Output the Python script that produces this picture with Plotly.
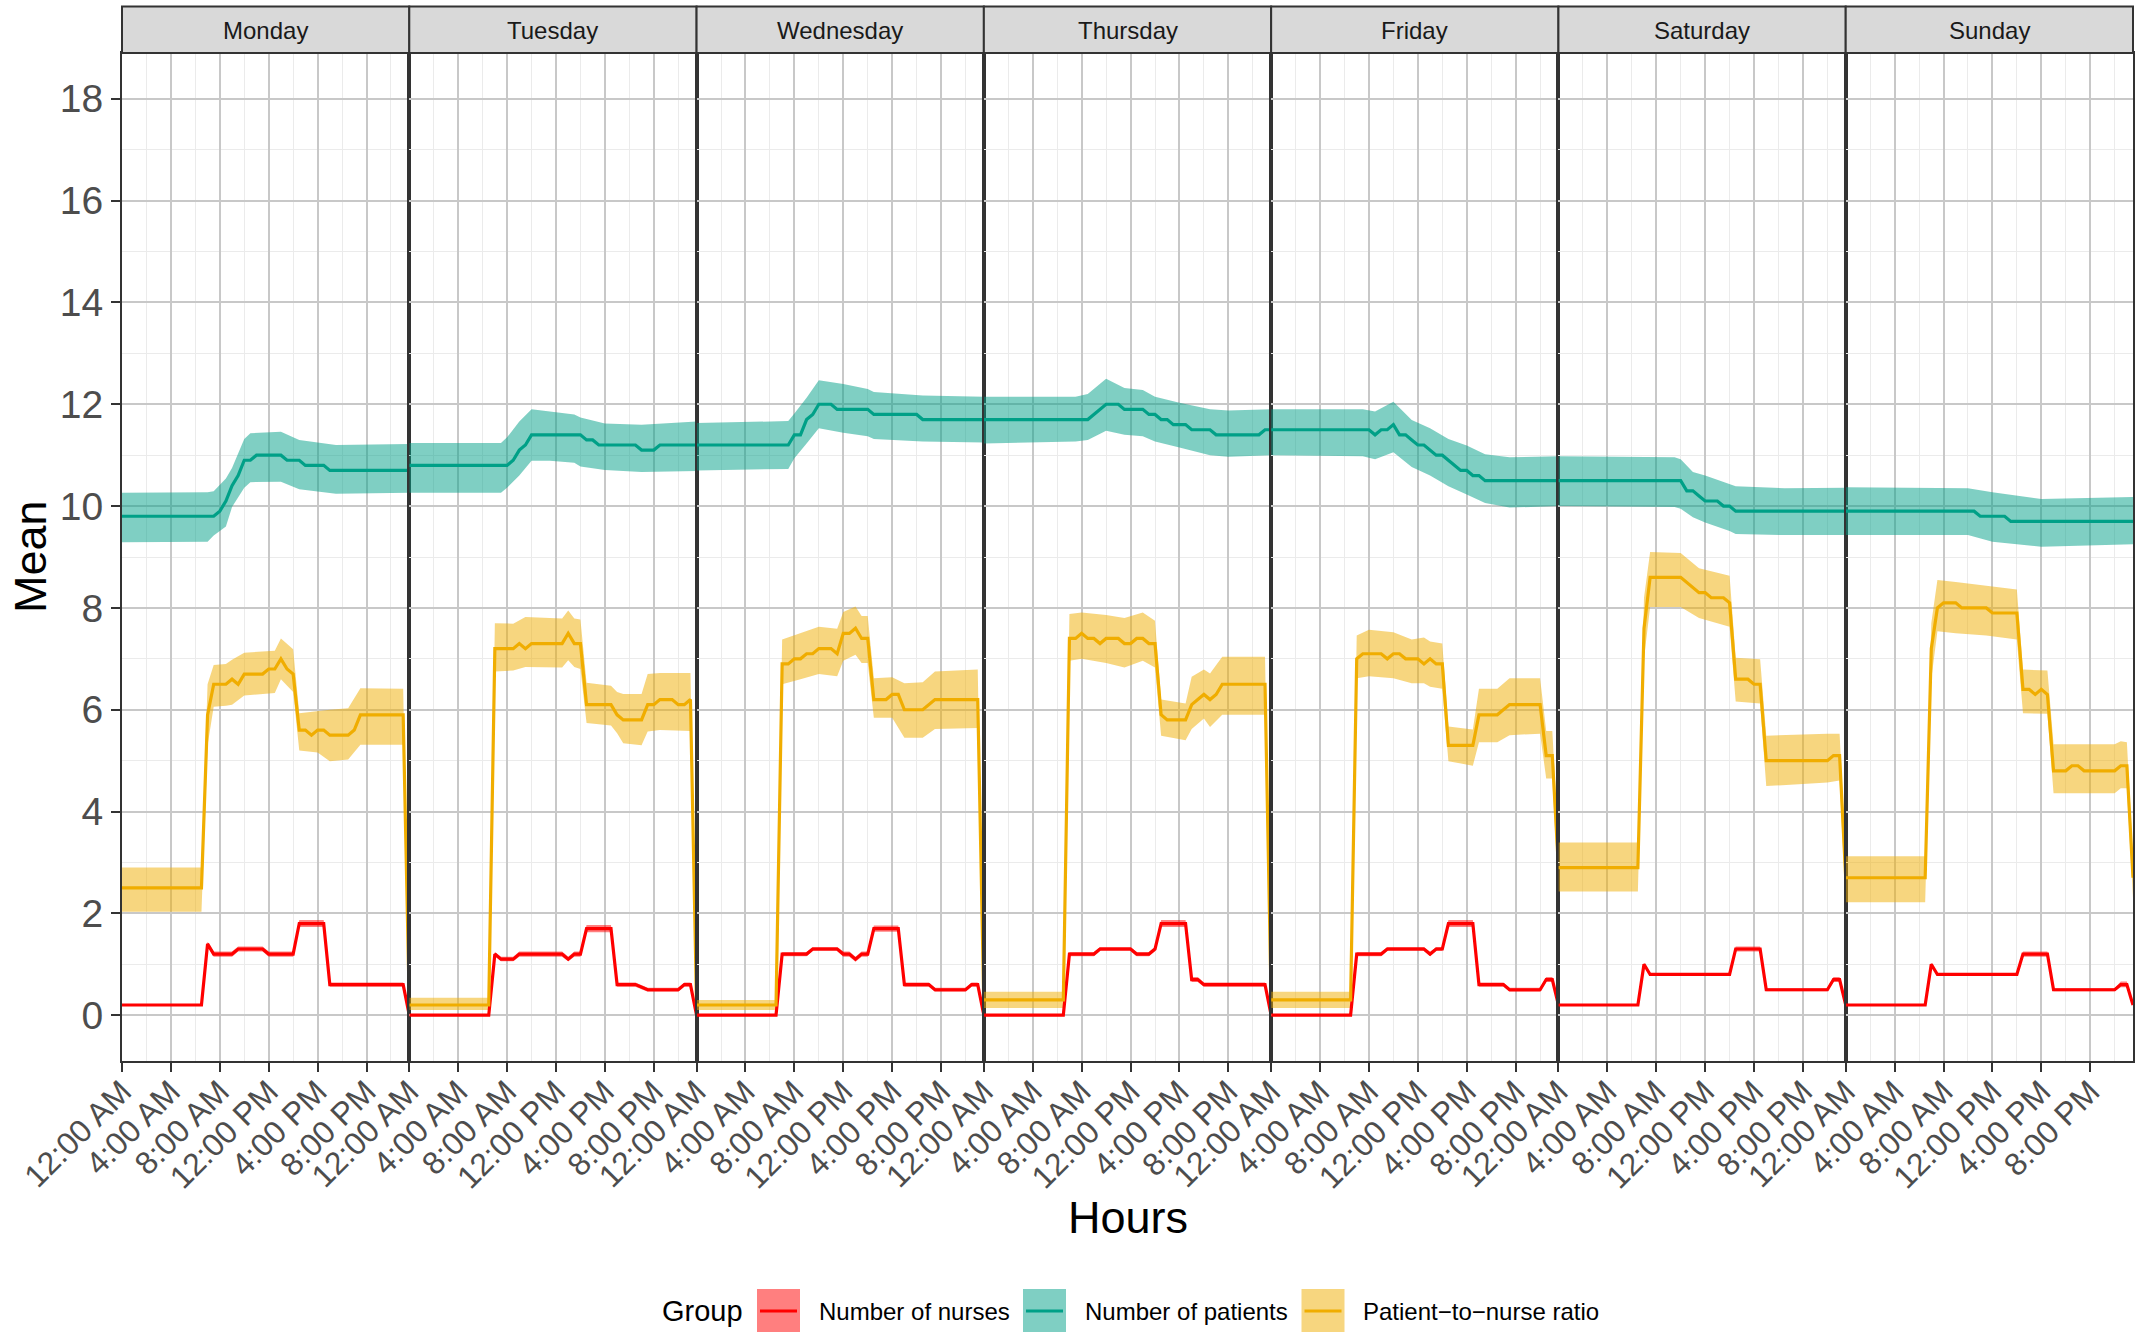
import plotly.graph_objects as go
from plotly.subplots import make_subplots

# ---------------- data ----------------
DAYS = ["Monday", "Tuesday", "Wednesday", "Thursday", "Friday", "Saturday", "Sunday"]
TICK_HOURS = [0, 4, 8, 12, 16, 20]
TICK_LABELS = ["12:00 AM", "4:00 AM", "8:00 AM", "12:00 PM", "4:00 PM", "8:00 PM"]
GROUPS = ["Number of nurses", "Number of patients", "Patient\u2212to\u2212nurse ratio"]
Y_TICKS = [0, 2, 4, 6, 8, 10, 12, 14, 16, 18]

# nurses: (hour, mean, lower, upper)
mon_nurses = [(0,0.2,0.18,0.22),(6.5,0.2,0.18,0.22),(7,1.4,1.36,1.44),(7.5,1.2,1.15,1.25),(9,1.2,1.15,1.25),(9.5,1.3,1.25,1.35),(11.5,1.3,1.25,1.35),(12,1.2,1.15,1.25),(14,1.2,1.15,1.25),(14.5,1.8,1.73,1.87),(16.5,1.8,1.73,1.87),(17,0.6,0.56,0.64),(23,0.6,0.56,0.64),(23.5,0,0,0.01)]
tue_nurses = [(0,0,0,0.01),(6.5,0,0,0.01),(7,1.2,1.16,1.24),(7.5,1.1,1.06,1.15),(8.5,1.1,1.06,1.15),(9,1.2,1.15,1.25),(12.5,1.2,1.15,1.25),(13,1.1,1.06,1.15),(13.5,1.2,1.15,1.25),(14,1.2,1.15,1.25),(14.5,1.7,1.63,1.77),(16.5,1.7,1.63,1.77),(17,0.6,0.56,0.64),(18.5,0.6,0.56,0.64),(19.5,0.5,0.46,0.54),(22,0.5,0.46,0.54),(22.5,0.6,0.56,0.64),(23,0.6,0.56,0.64),(23.5,0,0,0.01)]
wed_nurses = [(0,0,0,0.01),(6.5,0,0,0.01),(7,1.2,1.16,1.24),(9,1.2,1.16,1.24),(9.5,1.3,1.26,1.34),(11.5,1.3,1.26,1.34),(12,1.2,1.15,1.25),(12.5,1.2,1.15,1.25),(13,1.1,1.05,1.15),(13.5,1.2,1.15,1.25),(14,1.2,1.15,1.25),(14.5,1.7,1.64,1.76),(16.5,1.7,1.64,1.76),(17,0.6,0.56,0.64),(19,0.6,0.56,0.64),(19.5,0.5,0.46,0.54),(22,0.5,0.46,0.54),(22.5,0.6,0.56,0.64),(23,0.6,0.56,0.64),(23.5,0,0,0.01)]
thu_nurses = [(0,0,0,0.01),(6.5,0,0,0.01),(7,1.2,1.16,1.24),(9,1.2,1.16,1.24),(9.5,1.3,1.26,1.34),(12,1.3,1.26,1.34),(12.5,1.2,1.16,1.24),(13.5,1.2,1.16,1.24),(14,1.3,1.26,1.34),(14.5,1.8,1.73,1.87),(16.5,1.8,1.73,1.87),(17,0.7,0.65,0.75),(17.5,0.7,0.65,0.75),(18,0.6,0.56,0.64),(23,0.6,0.56,0.64),(23.5,0,0,0.01)]
fri_nurses = [(0,0,0,0.01),(6.5,0,0,0.01),(7,1.2,1.16,1.24),(9,1.2,1.16,1.24),(9.5,1.3,1.26,1.34),(12.5,1.3,1.26,1.34),(13,1.2,1.16,1.24),(13.5,1.3,1.26,1.34),(14,1.3,1.26,1.34),(14.5,1.8,1.73,1.87),(16.5,1.8,1.73,1.87),(17,0.6,0.56,0.64),(19,0.6,0.56,0.64),(19.5,0.5,0.46,0.54),(22,0.5,0.46,0.54),(22.5,0.7,0.65,0.75),(23,0.7,0.65,0.75),(23.5,0.2,0.18,0.22)]
sat_nurses = [(0,0.2,0.18,0.22),(6.5,0.2,0.18,0.22),(7,1.0,0.97,1.03),(7.5,0.8,0.77,0.83),(14,0.8,0.77,0.83),(14.5,1.3,1.25,1.35),(16.5,1.3,1.25,1.35),(17,0.5,0.47,0.53),(22,0.5,0.47,0.53),(22.5,0.7,0.65,0.75),(23,0.7,0.65,0.75),(23.5,0.2,0.18,0.22)]
sun_nurses = [(0,0.2,0.18,0.22),(6.5,0.2,0.18,0.22),(7,1.0,0.97,1.03),(7.5,0.8,0.77,0.83),(14,0.8,0.77,0.83),(14.5,1.2,1.15,1.25),(16.5,1.2,1.15,1.25),(17,0.5,0.47,0.53),(22,0.5,0.47,0.53),(22.5,0.6,0.55,0.66),(23,0.6,0.55,0.66),(23.5,0.2,0.18,0.22)]

# patients: (hour, mean) and band (hour, lower, upper)
mon_patients = [(0,9.8),(7.5,9.8),(8,9.9),(8.5,10.1),(9,10.4),(9.5,10.6),(10,10.9),(10.5,10.9),(11,11.0),(13,11.0),(13.5,10.9),(14.5,10.9),(15,10.8),(16.5,10.8),(17,10.7),(23.5,10.7)]
mon_patients_band = [(0,9.29,10.26),(7,9.30,10.27),(7.5,9.42,10.29),(8.5,9.60,10.54),(9,9.98,10.75),(10,10.36,11.32),(10.5,10.47,11.43),(13,10.48,11.46),(14.5,10.33,11.30),(17.5,10.24,11.20),(23.5,10.26,11.22)]
tue_patients = [(0,10.8),(8,10.8),(8.5,10.9),(9,11.1),(9.5,11.2),(10,11.4),(14,11.4),(14.5,11.3),(15,11.3),(15.5,11.2),(18.5,11.2),(19,11.1),(20,11.1),(20.5,11.2),(23.5,11.2)]
tue_patients_band = [(0,10.26,11.24),(7.5,10.26,11.24),(8,10.36,11.35),(9,10.60,11.66),(10,10.89,11.90),(11.5,10.89,11.86),(13.5,10.85,11.80),(14,10.78,11.74),(16,10.71,11.62),(19,10.67,11.60),(23.5,10.69,11.66)]
wed_patients = [(0,11.2),(7.5,11.2),(8,11.4),(8.5,11.4),(9,11.7),(9.5,11.8),(10,12.0),(11,12.0),(11.5,11.9),(14,11.9),(14.5,11.8),(18,11.8),(18.5,11.7),(23.5,11.7)]
wed_patients_band = [(0,10.70,11.63),(7.5,10.73,11.67),(8,10.94,11.82),(9,11.23,12.13),(10,11.53,12.47),(12,11.44,12.40),(14,11.37,12.30),(14.5,11.32,12.24),(18.5,11.27,12.17),(23.5,11.25,12.15)]
thu_patients = [(0,11.7),(8.5,11.7),(10,12.0),(11,12.0),(11.5,11.9),(13,11.9),(13.5,11.8),(14,11.8),(14.5,11.7),(15,11.7),(15.5,11.6),(16.5,11.6),(17,11.5),(18.5,11.5),(19,11.4),(22.5,11.4),(23,11.5),(23.5,11.5)]
thu_patients_band = [(0,11.23,12.15),(7.5,11.27,12.15),(8.5,11.30,12.20),(10,11.48,12.50),(11.5,11.40,12.32),(13,11.37,12.28),(14,11.27,12.15),(16,11.15,12.03),(18.5,11.00,11.90),(20,10.97,11.88),(23.5,11.00,11.90)]
fri_patients = [(0,11.5),(8,11.5),(8.5,11.4),(9,11.5),(9.5,11.5),(10,11.6),(10.5,11.4),(11,11.4),(11.5,11.3),(12,11.2),(12.5,11.2),(13,11.1),(13.5,11.0),(14,11.0),(14.5,10.9),(15,10.8),(15.5,10.7),(16,10.7),(16.5,10.6),(17,10.6),(17.5,10.5),(23.5,10.5)]
fri_patients_band = [(0,11.00,11.90),(7.5,10.98,11.90),(8.5,10.92,11.86),(10,11.06,12.05),(11.5,10.77,11.69),(13,10.60,11.53),(14.5,10.39,11.32),(16,10.23,11.19),(17.5,10.06,11.02),(19.5,9.97,10.96),(23.5,10.00,10.98)]
sat_patients = [(0,10.5),(10,10.5),(10.5,10.3),(11,10.3),(11.5,10.2),(12,10.1),(13,10.1),(13.5,10.0),(14,10.0),(14.5,9.9),(23.5,9.9)]
sat_patients_band = [(0,10.00,10.98),(9.5,9.98,10.96),(10,9.95,10.92),(11,9.78,10.67),(12,9.68,10.60),(14,9.51,10.44),(14.5,9.45,10.39),(18.5,9.43,10.35),(23.5,9.43,10.36)]
sun_patients = [(0,9.9),(10.5,9.9),(11,9.8),(13,9.8),(13.5,9.7),(23.5,9.7)]
sun_patients_band = [(0,9.43,10.37),(10,9.43,10.35),(12,9.30,10.27),(16,9.20,10.14),(23.5,9.25,10.18)]

# patient-to-nurse ratio: (hour, mean) and band (hour, lower, upper)
mon_ratio = [(0,2.5),(6.5,2.5),(7,5.9),(7.5,6.5),(8.5,6.5),(9,6.6),(9.5,6.5),(10,6.7),(11.5,6.7),(12,6.8),(12.5,6.8),(13,7.0),(13.5,6.8),(14,6.7),(14.5,5.6),(15,5.6),(15.5,5.5),(16,5.6),(16.5,5.6),(17,5.5),(18.5,5.5),(19,5.6),(19.5,5.9),(23,5.9),(23.5,0.2)]
mon_ratio_band = [(0,2.03,2.90),(6.5,2.03,2.90),(7,5.30,6.50),(7.5,6.06,6.88),(8.5,6.08,6.90),(9,6.10,6.98),(10,6.28,7.12),(12.5,6.33,7.16),(13,6.60,7.40),(14,6.35,7.19),(14.5,5.20,5.93),(16,5.16,5.98),(17,4.99,6.00),(18.5,5.02,6.03),(19.5,5.31,6.42),(23,5.31,6.41),(23.5,0.10,0.34)]
tue_ratio = [(0,0.2),(6.5,0.2),(7,7.2),(8.5,7.2),(9,7.3),(9.5,7.2),(10,7.3),(12.5,7.3),(13,7.5),(13.5,7.3),(14,7.3),(14.5,6.1),(16.5,6.1),(17,5.9),(17.5,5.8),(19,5.8),(19.5,6.1),(20,6.1),(20.5,6.2),(21.5,6.2),(22,6.1),(22.5,6.1),(23,6.2),(23.5,0.2)]
tue_ratio_band = [(0,0.10,0.34),(6.5,0.10,0.34),(7,6.75,7.70),(8.5,6.77,7.69),(9.5,6.84,7.82),(12.5,6.83,7.79),(13,6.97,7.95),(13.5,6.84,7.79),(14,6.80,7.77),(14.5,5.74,6.53),(16.5,5.69,6.47),(17,5.54,6.35),(17.5,5.34,6.31),(19,5.30,6.31),(19.5,5.57,6.70),(20.5,5.60,6.72),(23,5.58,6.72),(23.5,0.10,0.34)]
wed_ratio = [(0,0.2),(6.5,0.2),(7,6.9),(7.5,6.9),(8,7.0),(8.5,7.0),(9,7.1),(9.5,7.1),(10,7.2),(11,7.2),(11.5,7.1),(12,7.5),(12.5,7.5),(13,7.6),(13.5,7.4),(14,7.4),(14.5,6.2),(15.5,6.2),(16,6.3),(16.5,6.3),(17,6.0),(18.5,6.0),(19.5,6.2),(23,6.2),(23.5,0.2)]
wed_ratio_band = [(0,0.10,0.30),(6.5,0.10,0.30),(7,6.50,7.38),(8.5,6.60,7.50),(10,6.70,7.63),(11.5,6.66,7.59),(12,6.96,7.92),(13,7.08,8.03),(13.5,6.92,7.84),(14,6.92,7.84),(14.5,5.84,6.62),(16,5.84,6.64),(17,5.45,6.52),(18.5,5.45,6.54),(19.5,5.62,6.75),(23,5.64,6.79),(23.5,0.14,0.46)]
thu_ratio = [(0,0.3),(6.5,0.3),(7,7.4),(7.5,7.4),(8,7.5),(8.5,7.4),(9,7.4),(9.5,7.3),(10,7.4),(11,7.4),(11.5,7.3),(12,7.3),(12.5,7.4),(13,7.4),(13.5,7.3),(14,7.3),(14.5,5.9),(15,5.8),(16.5,5.8),(17,6.1),(17.5,6.2),(18,6.3),(18.5,6.2),(19,6.3),(19.5,6.5),(23,6.5),(23.5,0.3)]
thu_ratio_band = [(0,0.14,0.46),(6.5,0.14,0.46),(7,6.96,7.88),(8,7.00,7.91),(10,6.92,7.86),(11.5,6.83,7.80),(13,6.96,7.91),(14,6.83,7.75),(14.5,5.49,6.20),(16.5,5.40,6.12),(17,5.62,6.65),(18,5.83,6.79),(18.5,5.66,6.71),(19.5,5.90,7.04),(23,5.90,7.04),(23.5,0.14,0.46)]
fri_ratio = [(0,0.3),(6.5,0.3),(7,7.0),(7.5,7.1),(9,7.1),(9.5,7.0),(10,7.1),(10.5,7.1),(11,7.0),(12,7.0),(12.5,6.9),(13,7.0),(13.5,6.9),(14,6.9),(14.5,5.3),(16.5,5.3),(17,5.9),(18.5,5.9),(19.5,6.1),(22,6.1),(22.5,5.1),(23,5.1),(23.5,2.9)]
fri_ratio_band = [(0,0.14,0.46),(6.5,0.14,0.46),(7,6.62,7.46),(8,6.66,7.57),(10,6.62,7.52),(11.5,6.52,7.38),(12.5,6.52,7.42),(13,6.45,7.34),(14,6.41,7.30),(14.5,4.99,5.67),(16.5,4.90,5.61),(17,5.36,6.41),(18.5,5.36,6.41),(19.5,5.50,6.62),(22,5.53,6.62),(22.5,4.65,5.58),(23,4.65,5.58),(23.5,2.43,3.39)]
sat_ratio = [(0,2.9),(6.5,2.9),(7,7.6),(7.5,8.6),(10,8.6),(10.5,8.5),(11,8.4),(11.5,8.3),(12,8.3),(12.5,8.2),(13.5,8.2),(14,8.1),(14.5,6.6),(15.5,6.6),(16,6.5),(16.5,6.5),(17,5.0),(22,5.0),(22.5,5.1),(23,5.1),(23.5,2.7)]
sat_ratio_band = [(0,2.43,3.39),(6.5,2.43,3.39),(7,7.00,8.20),(7.5,8.02,9.10),(10,8.02,9.08),(11.5,7.80,8.78),(14,7.63,8.63),(14.5,6.16,7.02),(16.5,6.12,6.99),(17,4.50,5.49),(22,4.57,5.53),(23,4.61,5.53),(23.5,2.22,3.12)]
sun_ratio = [(0,2.7),(6.5,2.7),(7,7.2),(7.5,8.0),(8,8.1),(9,8.1),(9.5,8.0),(11.5,8.0),(12,7.9),(14,7.9),(14.5,6.4),(15,6.4),(15.5,6.3),(16,6.4),(16.5,6.3),(17,4.8),(18,4.8),(18.5,4.9),(19,4.9),(19.5,4.8),(22,4.8),(22.5,4.9),(23,4.9),(23.5,2.7)]
sun_ratio_band = [(0,2.22,3.12),(6.5,2.22,3.12),(7,6.60,7.70),(7.5,7.54,8.55),(9,7.50,8.51),(11.5,7.46,8.44),(14,7.38,8.36),(14.5,5.93,6.79),(16.5,5.92,6.77),(17,4.36,5.32),(22,4.36,5.32),(22.5,4.46,5.38),(23,4.46,5.36),(23.5,2.30,3.10)]

NURSES = [mon_nurses, tue_nurses, wed_nurses, thu_nurses, fri_nurses, sat_nurses, sun_nurses]
PATIENTS = [mon_patients, tue_patients, wed_patients, thu_patients, fri_patients, sat_patients, sun_patients]
PATIENTS_BAND = [mon_patients_band, tue_patients_band, wed_patients_band, thu_patients_band,
                 fri_patients_band, sat_patients_band, sun_patients_band]
RATIO = [mon_ratio, tue_ratio, wed_ratio, thu_ratio, fri_ratio, sat_ratio, sun_ratio]
RATIO_BAND = [mon_ratio_band, tue_ratio_band, wed_ratio_band, thu_ratio_band,
              fri_ratio_band, sat_ratio_band, sun_ratio_band]

# ---------------- style ----------------
LINE_COLORS = ["#FF0000", "#00A087", "#F0AD00"]
FILL_COLORS = ["rgba(255,0,0,0.5)", "rgba(0,160,135,0.5)", "rgba(240,173,0,0.5)"]
FONT = "Liberation Sans, Arial, Helvetica, sans-serif"
DARK = "#333333"
MAJOR = "#C8C8C8"
MINOR = "#EBEBEB"

W, H = 2144, 1332
ML, MR, MT, MB = 122, 11, 53, 271
PW = W - ML - MR
PH = H - MT - MB
PB = H - MB  # pixel y of plot bottom


def px_x(p):
    return (p - ML) / PW


def px_y(p):
    return (PB - p) / PH


fig = make_subplots(rows=1, cols=7, shared_yaxes=True, horizontal_spacing=0)


def band_trace(band, color):
    hs = [b[0] for b in band]
    lo = [b[1] for b in band]
    hi = [b[2] for b in band]
    return go.Scatter(x=hs + hs[::-1], y=hi + lo[::-1], fill="toself", fillcolor=color,
                      line=dict(width=0), mode="lines", hoverinfo="skip", showlegend=False)


def line_trace(h, v, color, name):
    return go.Scatter(x=h, y=v, mode="lines", line=dict(color=color, width=3.2),
                      name=name, showlegend=False)


for i in range(7):
    col = i + 1
    nb = [(p[0], p[2], p[3]) for p in NURSES[i]]
    fig.add_trace(band_trace(nb, FILL_COLORS[0]), row=1, col=col)
    fig.add_trace(band_trace(PATIENTS_BAND[i], FILL_COLORS[1]), row=1, col=col)
    fig.add_trace(band_trace(RATIO_BAND[i], FILL_COLORS[2]), row=1, col=col)
    fig.add_trace(line_trace([p[0] for p in NURSES[i]], [p[1] for p in NURSES[i]],
                             LINE_COLORS[0], GROUPS[0]), row=1, col=col)
    fig.add_trace(line_trace([p[0] for p in PATIENTS[i]], [p[1] for p in PATIENTS[i]],
                             LINE_COLORS[1], GROUPS[1]), row=1, col=col)
    fig.add_trace(line_trace([p[0] for p in RATIO[i]], [p[1] for p in RATIO[i]],
                             LINE_COLORS[2], GROUPS[2]), row=1, col=col)

    fig.update_xaxes(
        row=1, col=col, range=[0, 23.5], tickmode="array", tickvals=TICK_HOURS,
        ticktext=TICK_LABELS, tickangle=-45, ticklabelstandoff=-12,
        tickfont=dict(family=FONT, size=32, color="#4D4D4D"),
        ticks="outside", ticklen=9, tickwidth=2.2, tickcolor=DARK,
        showgrid=True, gridcolor=MAJOR, gridwidth=1.6,
        minor=dict(tickvals=[2, 6, 10, 14, 18, 22], showgrid=True, gridcolor=MINOR,
                   gridwidth=1.2, ticks=""),
        showline=True, mirror=True, linecolor=DARK, linewidth=2,
        zeroline=False, automargin=False, fixedrange=True)
    fig.update_yaxes(
        row=1, col=col, range=[-0.9, 18.9], tickmode="array", tickvals=Y_TICKS,
        showgrid=True, gridcolor=MAJOR, gridwidth=1.6,
        minor=dict(tickvals=[1, 3, 5, 7, 9, 11, 13, 15, 17], showgrid=True,
                   gridcolor=MINOR, gridwidth=1.2, ticks=""),
        showline=True, mirror=True, linecolor=DARK, linewidth=(2 if col == 1 else 1.5),
        zeroline=False, automargin=False, fixedrange=True,
        ticks="outside" if col == 1 else "", ticklen=9, tickwidth=2.2, tickcolor=DARK,
        showticklabels=(col == 1),
        tickfont=dict(family=FONT, size=39, color="#4D4D4D"))

    # facet strip
    xr = "x domain" if col == 1 else f"x{col} domain"
    fig.add_shape(type="rect", xref=xr, yref="paper", x0=0, x1=1,
                  y0=1, y1=px_y(6.5), fillcolor="#D9D9D9",
                  line=dict(color=DARK, width=2), layer="above")
    fig.add_annotation(xref=xr, yref="paper", x=0.5, y=px_y(30), text=DAYS[i],
                       showarrow=False, font=dict(family=FONT, size=24, color="#1A1A1A"),
                       xanchor="center", yanchor="middle")

# axis titles
fig.add_annotation(xref="paper", yref="paper", x=0.5, y=px_y(1217), text="Hours",
                   showarrow=False, font=dict(family=FONT, size=45, color="black"),
                   xanchor="center", yanchor="middle")
fig.add_annotation(xref="paper", yref="paper", x=px_x(30), y=0.5, text="Mean",
                   textangle=-90, showarrow=False,
                   font=dict(family=FONT, size=45, color="black"),
                   xanchor="center", yanchor="middle")

# legend (drawn manually, ggplot style)
LEG_Y = 1311
fig.add_annotation(xref="paper", yref="paper", x=px_x(660), y=px_y(LEG_Y), text="Group",
                   showarrow=False, font=dict(family=FONT, size=29, color="black"),
                   xanchor="left", yanchor="middle")
key_left = [757, 1023, 1301.5]
text_left = [817, 1083, 1361]
for k in range(3):
    fig.add_shape(type="rect", xref="paper", yref="paper",
                  x0=px_x(key_left[k]), x1=px_x(key_left[k] + 43),
                  y0=px_y(1289), y1=px_y(1340), fillcolor=FILL_COLORS[k],
                  line=dict(width=0))
    fig.add_shape(type="line", xref="paper", yref="paper",
                  x0=px_x(key_left[k] + 3), x1=px_x(key_left[k] + 40),
                  y0=px_y(LEG_Y), y1=px_y(LEG_Y),
                  line=dict(color=LINE_COLORS[k], width=3))
    fig.add_annotation(xref="paper", yref="paper", x=px_x(text_left[k]), y=px_y(LEG_Y),
                       text=GROUPS[k], showarrow=False,
                       font=dict(family=FONT, size=24, color="black"),
                       xanchor="left", yanchor="middle")

fig.update_layout(
    width=W, height=H,
    margin=dict(l=ML, r=MR, t=MT, b=MB, autoexpand=False),
    paper_bgcolor="white", plot_bgcolor="white",
    showlegend=False,
    font=dict(family=FONT),
)

fig.write_html(
    "out.html",
    config={"displayModeBar": False},
    post_script="document.body.style.margin='0';document.body.style.padding='0';"
                "document.body.style.overflow='hidden';",
)
